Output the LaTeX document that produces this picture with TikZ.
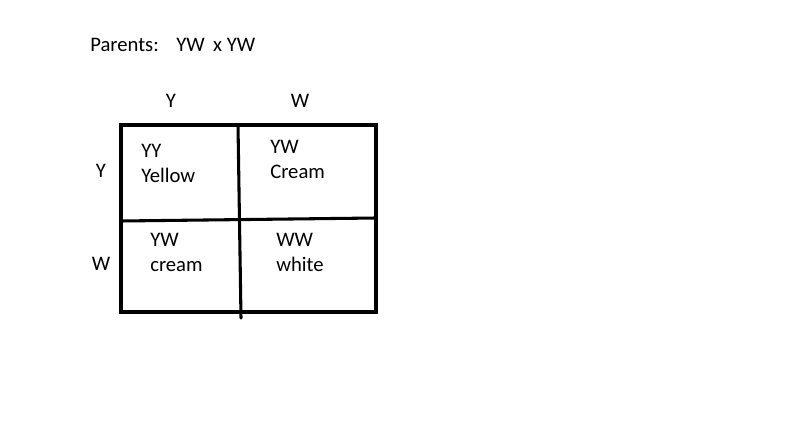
\documentclass[tikz,border=0pt]{standalone}
\usepackage{fontspec}
\setmainfont{Carlito}
\usepackage{xcolor}

\begin{document}
\begin{tikzpicture}[x=0.75pt,y=0.75pt,yscale=-1,xscale=1,
  lbl/.style={font=\fontsize{15.5}{18.8}\selectfont, inner sep=0pt},
  cell/.style={lbl, anchor=north west, align=left},
  grid/.style={line width=2.3pt, line cap=round}]
\useasboundingbox (0,0) rectangle (800,438);

% Square outline
\coordinate (tl) at (121,125);
\coordinate (br) at (376,312);
\draw [grid] (tl) rectangle (br) ;
% Dividers
\coordinate (vtop) at (238,125);
\coordinate (vbot) at (241,318);
\coordinate (hleft) at (121,221);
\coordinate (hright) at (376,218);
\draw [grid] (vtop) -- (vbot) ;
\draw [grid] (hleft) -- (hright) ;

% Text Node
\node [lbl, anchor=base west] (parents) at (90,52) {Parents:\hspace{0.85em}YW\hspace{0.4em}x YW};
% Gametes
\node [lbl, anchor=base] (colY) at (171,108) {Y};
\node [lbl, anchor=base] (colW) at (300,108) {W};
\node [lbl, anchor=base] (rowY) at (101,178) {Y};
\node [lbl, anchor=base] (rowW) at (101,271) {W};

% Cells
\node [cell] (yy) at (141,144) {YY\\Yellow};
\node [cell] (yw1) at (270,140) {YW\\Cream};
\node [cell] (yw2) at (150,233) {YW\\cream};
\node [cell] (ww) at (276,233) {WW\\white};

\end{tikzpicture}
\end{document}
